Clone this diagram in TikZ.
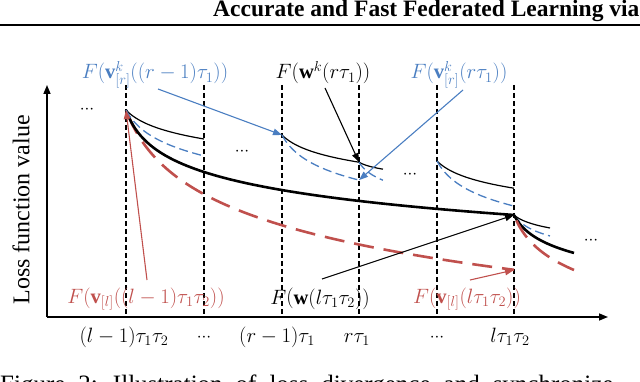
\documentclass[tikz,border=0pt]{standalone}
\usepackage{fontspec}
\setmainfont{Liberation Serif}
\usetikzlibrary{arrows.meta}
\definecolor{cblue}{RGB}{74,126,193}
\definecolor{cred}{RGB}{192,80,77}
\newcommand\logcurve[6]{\draw[#1] plot[domain=0:#4,samples=80,smooth] ({#2+\x},{#3+#5*ln(1+\x/#6)});}
\newcommand\mydots{${\cdot}{\cdot}{\cdot}$}
\begin{document}
\begin{tikzpicture}[x=1pt,y=-1pt,
  vline/.style={line width=1.1pt,dash pattern=on 5pt off 3pt},
  thinblack/.style={line width=1.2pt},
  thickblack/.style={line width=2.6pt},
  bluedash/.style={cblue,line width=1.3pt,dash pattern=on 9pt off 4.5pt},
  reddash/.style={cred,line width=2.6pt,dash pattern=on 20pt off 10pt,dash phase=24pt},
  axisline/.style={line width=1.5pt,-{Triangle[length=9pt,width=7pt]}},
  ann/.style={line width=1.1pt,-{Triangle[length=9pt,width=6.5pt]}},
  lbl/.style={font=\fontsize{20.5}{24}\selectfont,inner sep=0pt,anchor=base},
  dotlbl/.style={font=\fontsize{16}{20}\selectfont,inner sep=0pt,anchor=base}
]
\useasboundingbox (0,0) rectangle (640,382);
\begin{scope}
\clip (0,0) rectangle (640,382);
% header
\node[anchor=base west,inner sep=0pt,font=\bfseries\fontsize{23.5}{27}\selectfont] (hdr) at (213,16.5) {Accurate and Fast Federated Learning via};
\draw[line width=2.2pt] (0,25) -- (640,25);
% caption (cut)
\node[anchor=base west,inner sep=0pt,font=\fontsize{25}{29}\selectfont] (cap) at (0,392) {\spaceskip=13pt Figure 2: Illustration of loss divergence and synchronize};
\end{scope}

% key points
\coordinate (O) at (47,317);
\coordinate (yend) at (47,85);
\coordinate (xend) at (608,317);
\coordinate (A) at (126,110);
\coordinate (s2) at (282,135);
\coordinate (s3) at (359,162.2);
\coordinate (b2) at (359,180.1);
\coordinate (s4) at (437,161);
\coordinate (L) at (514,215);
\coordinate (R) at (514,270);

% vertical dashed lines
\foreach \xx in {126,204,282,359,437,514}
  \draw[vline] (\xx,85) -- (\xx,317);

% axes
\draw[axisline] (O) -- (yend);
\draw[axisline] (O) -- (xend);

% curves
\logcurve{reddash}{126}{110}{388}{53}{20}
\logcurve{thickblack}{126}{110}{388}{28.5}{10}
\logcurve{thinblack}{126}{110}{78}{15.9}{15}
\logcurve{bluedash}{126}{110}{78}{22.8}{12}
\logcurve{thinblack}{282}{135}{77}{15}{15}
\logcurve{bluedash}{282}{135}{77}{22.5}{12}
\logcurve{thinblack}{359}{162.2}{24}{5.7}{10}
\logcurve{bluedash}{359}{162.2}{24}{13}{8}
\logcurve{thinblack}{437}{161}{77}{15}{15}
\logcurve{bluedash}{437}{161}{77}{22.5}{12}
\logcurve{thinblack}{514}{215}{36}{8.5}{10}
\logcurve{bluedash}{514}{215}{36}{12.3}{8}
\logcurve{thickblack}{514}{215}{60}{19.5}{10}
\logcurve{reddash}{514}{215}{60}{30.7}{12}

% dots
\node[dotlbl] (d1) at (87,114) {\mydots};
\node[dotlbl] (d2) at (242,156) {\mydots};
\node[dotlbl] (d3) at (410,179) {\mydots};
\node[dotlbl] (d4) at (591,244) {\mydots};

% labels
\node[lbl,text=cblue] (lA) at (155,79) {$F(\mathbf{v}^k_{[r]}((r-1)\tau_1))$};
\node[lbl] (lB) at (323,79) {$F(\mathbf{w}^k(r\tau_1))$};
\node[lbl,text=cblue] (lC) at (459,79) {$F(\mathbf{v}^k_{[r]}(r\tau_1))$};
\node[lbl,text=cred] (lD) at (146,303) {$F(\mathbf{v}_{[l]}((l-1)\tau_1\tau_2))$};
\node[lbl] (lE) at (320,304) {$F\big(\mathbf{w}(l\tau_1\tau_2)\big)$};
\node[lbl,text=cred] (lF) at (467,303) {$F(\mathbf{v}_{[l]}(l\tau_1\tau_2))$};

% arrow starts
\coordinate (pA) at (158,89);
\coordinate (pB) at (325,88);
\coordinate (pC) at (463,90);
\coordinate (pD) at (147,280);
\coordinate (pE) at (322,279);
\coordinate (pF) at (470,280);

\draw[ann,cblue] (pA) -- (s2);
\draw[ann] (pB) -- (s3);
\draw[ann,cblue] (pC) -- (b2);
\draw[ann,cred] (pD) -- (A);
\draw[ann] (pE) -- (L);
\draw[ann,cred] (pF) -- (R);

% x-axis labels
\node[lbl] (x1) at (124,342) {$(l-1)\tau_1\tau_2$};
\node[dotlbl] (x2) at (204,341) {\mydots};
\node[lbl] (x3) at (277,342) {$(r-1)\tau_1$};
\node[lbl] (x4) at (357,342) {$r\tau_1$};
\node[dotlbl] (x5) at (437,341) {\mydots};
\node[lbl] (x6) at (510,342) {$l\tau_1\tau_2$};

% y label
\node[rotate=90,font=\fontsize{24}{28}\selectfont,inner sep=0pt] (ylab) at (21,210) {Loss function value};
\end{tikzpicture}
\end{document}
